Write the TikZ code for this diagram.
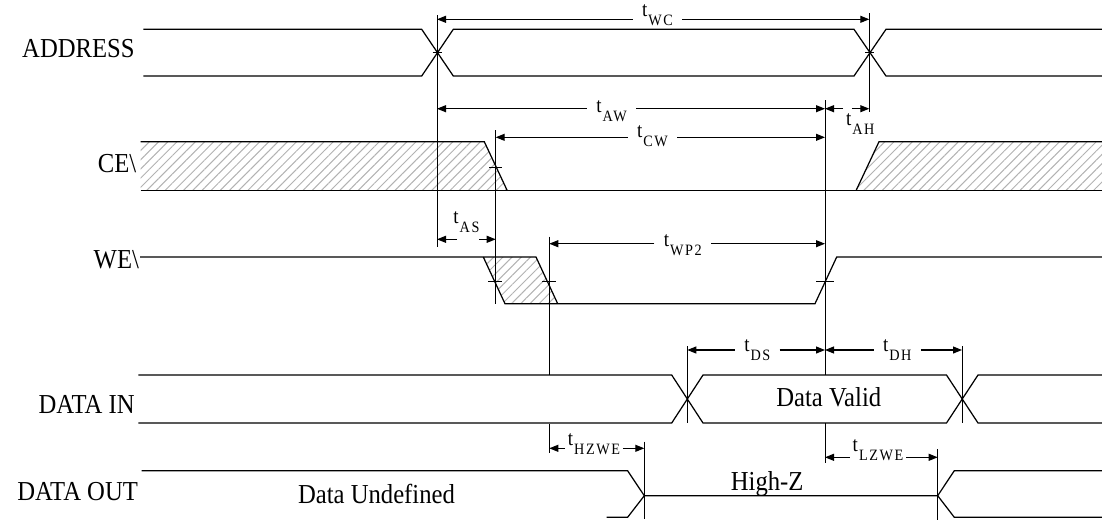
\documentclass[tikz,border=0pt]{standalone}
\usepackage{fontspec}
\setmainfont{Liberation Serif}[FakeStretch=0.9]
\newfontfamily\subfont{Liberation Serif}[FakeStretch=0.9,LetterSpace=10]
\usetikzlibrary{arrows.meta,patterns.meta}

\newcommand{\tsub}[1]{{\fontsize{12}{14}\selectfont t}\kern0.2mm\raisebox{-1.8mm}{\subfont\fontsize{9}{10}\selectfont #1}}

\begin{document}
\begin{tikzpicture}[x=0.2mm, y=-0.2mm,
    sig/.style={draw=black, line width=0.7pt},
    vline/.style={draw=black, line width=0.45pt},
    dim/.style={draw=black, line width=0.6pt, -{Triangle[length=1.8mm,width=1.4mm]}},
    hatch/.style={pattern={Lines[angle=45,distance=1.3mm,line width=0.2mm]}, pattern color=black!30},
    signame/.style={font=\fontsize{15.6}{18}\selectfont, inner sep=0pt, anchor=base east},
    txt/.style={font=\fontsize{15.6}{18}\selectfont, inner sep=0pt, anchor=base west},
    tlab/.style={inner ysep=0pt, inner xsep=1.8mm, anchor=base}]
    \useasboundingbox (0,0) rectangle (1102,521);

    \node[signame] (addr) at (135,57.3) {ADDRESS};
    \node[signame] (ce) at (136.7,172.7) {CE\textbackslash};
    \node[signame] (we) at (139.3,268.3) {WE\textbackslash};
    \node[signame] (din) at (135,413.3) {DATA IN};
    \node[signame] (dout) at (138.3,500) {DATA OUT};

    \draw[sig] (143.3,29.3) -- (421.7,29.3) -- (453.3,76) -- (854,76) -- (886,29.3) -- (1102,29.3);
    \draw[sig] (143.3,76) -- (421.7,76) -- (453.3,29.3) -- (854,29.3) -- (886,76) -- (1102,76);
    \draw[vline] (432.7,52.7) -- (442,52.7);
    \draw[vline] (865,52.7) -- (874,52.7);

    \fill[hatch] (140.7,141.7) -- (484.3,141.7) -- (507.3,190.7) -- (140.7,190.7) -- cycle;
    \fill[hatch] (856,190.7) -- (879,141.7) -- (1102,141.7) -- (1102,190.7) -- cycle;
    \draw[sig] (140.7,141.7) -- (484.3,141.7) -- (507.3,190.7);
    \draw[sig] (140.7,190.7) -- (1102,190.7);
    \draw[sig] (856,190.7) -- (879,141.7) -- (1102,141.7);
    \draw[vline] (489,167.3) -- (502,167.3);

    \fill[hatch] (483.3,257) -- (536,257) -- (557.7,303.7) -- (505,303.7) -- cycle;
    \draw[sig] (140,257) -- (536,257) -- (557.7,303.7);
    \draw[sig] (483.3,257) -- (505,303.7) -- (815,303.7) -- (836.7,257) -- (1102,257);
    \draw[vline] (488,281.5) -- (502,281.5);
    \draw[vline] (542,281.5) -- (556,281.5);
    \draw[vline] (816,281.5) -- (834,281.5);

    \draw[sig] (138.3,375) -- (671.7,375) -- (703,423) -- (946.5,423) -- (978,375) -- (1102,375);
    \draw[sig] (138.3,423) -- (671.7,423) -- (703,375) -- (946.5,375) -- (978,423) -- (1102,423);
    \node[txt] (valid) at (776,406.7) {Data Valid};

    \draw[sig] (141.7,470.7) -- (627.6,470.7) -- (644.3,495.7) -- (937.7,495.7) -- (954.3,470.7) -- (1102,470.7);
    \draw[sig] (606.5,517.3) -- (627.6,517.3) -- (644.3,495.7);
    \draw[sig] (937.7,495.7) -- (954.3,517.3) -- (1102,517.3);
    \node[txt] (undef) at (297.7,503.3) {Data Undefined};
    \node[txt] (hiz) at (730.5,490) {High-Z};

    \draw[vline] (437,15) -- (437,247);
    \draw[vline] (869.3,13) -- (869.3,112);
    \draw[vline] (825,100) -- (825,375);
    \draw[vline] (825,423) -- (825,463);
    \draw[vline] (495.7,130) -- (495.7,303.7);
    \draw[vline] (549.3,236.7) -- (549.3,375);
    \draw[vline] (549.3,424) -- (549.3,453);
    \draw[vline] (687.3,346) -- (687.3,423);
    \draw[vline] (962,346) -- (962,423);
    \draw[vline] (644.3,441.7) -- (644.3,519);
    \draw[vline] (937.7,449) -- (937.7,520);

    \coordinate (wc1) at (437,19.3);
    \coordinate (wc2) at (869.3,19.3);
    \node[tlab] (lwc) at (657.5,16.7) {\tsub{WC}};
    \draw[dim] (lwc.west |- wc1) -- (wc1);
    \draw[dim] (lwc.east |- wc2) -- (wc2);

    \coordinate (aw1) at (437,108.7);
    \coordinate (aw2) at (825,108.7);
    \node[tlab] (law) at (611.5,112.3) {\tsub{AW}};
    \draw[dim] (law.west |- aw1) -- (aw1);
    \draw[dim] (law.east |- aw2) -- (aw2);

    \coordinate (ah1) at (825,108.7);
    \coordinate (ah2) at (869.3,108.7);
    \node[tlab] (lah) at (860.3,125) {\tsub{AH}};
    \draw[dim] ([xshift=3.6mm]ah1) -- (ah1);
    \draw[dim] ([xshift=-3.5mm]ah2) -- (ah2);

    \coordinate (cw1) at (495.7,137.3);
    \coordinate (cw2) at (825,137.3);
    \node[tlab] (lcw) at (652.5,137.3) {\tsub{CW}};
    \draw[dim] (lcw.west |- cw1) -- (cw1);
    \draw[dim] (lcw.east |- cw2) -- (cw2);

    \coordinate (as1) at (437,239.3);
    \coordinate (as2) at (495.7,239.3);
    \node[tlab] (las) at (466.5,223.3) {\tsub{AS}};
    \draw[dim] ([xshift=4mm]as1) -- (as1);
    \draw[dim] ([xshift=-3.3mm]as2) -- (as2);

    \coordinate (wp1) at (549.3,243.7);
    \coordinate (wp2) at (825,243.7);
    \node[tlab] (lwp) at (682.7,246.7) {\tsub{WP2}};
    \draw[dim] (lwp.west |- wp1) -- (wp1);
    \draw[dim] (lwp.east |- wp2) -- (wp2);

    \coordinate (ds1) at (687.3,350);
    \coordinate (ds2) at (825,350);
    \node[tlab] (lds) at (757.3,351.7) {\tsub{DS}};
    \draw[dim] (lds.west |- ds1) -- (ds1);
    \draw[dim] (lds.east |- ds2) -- (ds2);

    \coordinate (dh1) at (825,350);
    \coordinate (dh2) at (962,350);
    \node[tlab] (ldh) at (897.3,351.7) {\tsub{DH}};
    \draw[dim] (ldh.west |- dh1) -- (dh1);
    \draw[dim] (ldh.east |- dh2) -- (dh2);

    \coordinate (hz1) at (549.3,448.3);
    \coordinate (hz2) at (644.3,448.3);
    \node[tlab, inner xsep=0.5mm] (lhz) at (594,445) {\tsub{HZWE}};
    \draw[dim] (lhz.west |- hz1) -- (hz1);
    \draw[dim] (lhz.east |- hz2) -- (hz2);

    \coordinate (lz1) at (825,457.3);
    \coordinate (lz2) at (937.7,457.3);
    \node[tlab, inner xsep=0.5mm] (llz) at (878,451.7) {\tsub{LZWE}};
    \draw[dim] (llz.west |- lz1) -- (lz1);
    \draw[dim] (llz.east |- lz2) -- (lz2);
\end{tikzpicture}
\end{document}
